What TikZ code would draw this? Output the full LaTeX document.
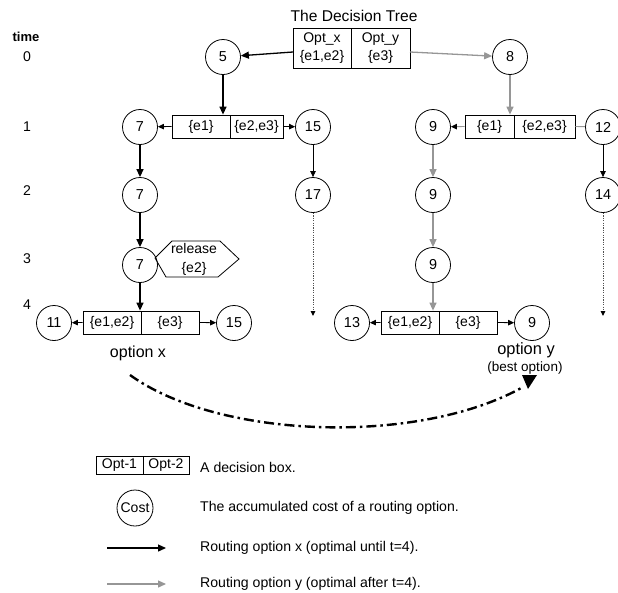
\documentclass[tikz,border=0pt]{standalone}
\usepackage{fontspec}
\setmainfont{Liberation Sans}
\usetikzlibrary{arrows.meta}
\definecolor{lg}{RGB}{150,150,150}
\definecolor{dg}{RGB}{80,80,80}
\begin{document}
\begin{tikzpicture}[x=1pt,y=-1pt,
  txt/.style={font=\fontsize{14.1}{16}\selectfont, inner sep=0pt},
  cost/.style={circle, draw, line width=0.8pt, minimum size=35pt, inner sep=0pt, font=\fontsize{14.4}{16}\selectfont},
  cell/.style={draw, line width=0.8pt, minimum height=23pt, inner sep=0pt, font=\fontsize{14}{16}\selectfont},
  tip/.style={-{Triangle[length=8pt,width=7pt]}},
  blk/.style={line width=1.3pt, tip},
  gry/.style={lg, line width=1.3pt, tip},
  thin/.style={line width=0.8pt, -{Triangle[length=6pt,width=5.5pt]}},
  dots/.style={dg, dash pattern=on 1.2pt off 1.2pt, line width=1pt, -{Triangle[black,length=5pt,width=4.5pt]}},
]
\useasboundingbox (0,0) rectangle (618,592);

% time labels
\node[txt, font=\bfseries\fontsize{13}{15}\selectfont] (tlab) at (26,37) {time};
\node[txt] (t0) at (27,57) {0};
\node[txt] (t1) at (27,127) {1};
\node[txt] (t2) at (27,191) {2};
\node[txt] (t3) at (27,259) {3};
\node[txt] (t4) at (27,305) {4};

% title and top decision box
\node[txt, font=\fontsize{15.6}{17}\selectfont] (title) at (354,16) {The Decision Tree};
\node[cell, minimum width=58pt, minimum height=40pt, align=center, font=\fontsize{14}{18}\selectfont] (topL) at (322,48) {Opt\_x\\\{e1,e2\}};
\node[cell, minimum width=59pt, minimum height=40pt, align=center, font=\fontsize{14}{18}\selectfont] (topR) at (380.5,48) {Opt\_y\\\{e3\}};

% cost nodes
\node[cost] (n5) at (223,57) {5};
\node[cost] (n8) at (510,57) {8};
\node[cost] (n7a) at (140,127) {7};
\node[cost] (n15a) at (313,127) {15};
\node[cost] (n9a) at (433,127) {9};
\node[cost] (n12) at (603,127) {12};
\node[cost] (n7b) at (140,195) {7};
\node[cost] (n17) at (313,195) {17};
\node[cost] (n9b) at (433,195) {9};
\node[cost] (n14) at (603,195) {14};
\node[cost] (n7c) at (140,265) {7};
\node[cost] (n9c) at (433,265) {9};
\node[cost] (n11) at (54,323) {11};
\node[cost] (n15b) at (234,323) {15};
\node[cost] (n13) at (352,323) {13};
\node[cost] (n9d) at (532,323) {9};

% decision boxes
\node[cell, minimum width=58pt] (b1l) at (201,126.5) {\{e1\}};
\node[cell, minimum width=53pt] (b1r) at (256.5,126.5) {\{e2,e3\}};
\node[cell, minimum width=49pt] (c1l) at (489.5,126.5) {\{e1\}};
\node[cell, minimum width=61pt] (c1r) at (544.5,126.5) {\{e2,e3\}};
\node[cell, minimum width=58pt] (d4l) at (112,322.5) {\{e1,e2\}};
\node[cell, minimum width=58pt] (d4r) at (170,322.5) {\{e3\}};
\node[cell, minimum width=58pt] (e4l) at (410,322.5) {\{e1,e2\}};
\node[cell, minimum width=58pt] (e4r) at (468,322.5) {\{e3\}};

% release hexagon
\draw[line width=0.8pt] (155,258) -- (172,241) -- (220,241) -- (239,259) -- (218,277) -- (166,277) -- cycle;
\node[txt, align=center, font=\fontsize{14}{19}\selectfont] (rel) at (194,259) {release\\\{e2\}};

% top connectors
\coordinate (aL) at (293,52);
\coordinate (aR) at (410,52);
\draw[blk] (aL) -- (n5);
\draw[gry] (aR) -- (n8);
\draw[blk] (n5) -- (n5 |- b1l.north);
\draw[gry] (n8) -- (n8 |- c1l.north);

% level 1 connectors
\draw[thin] (b1l.west) -- (n7a);
\draw[thin] (b1r.east) -- (n15a);
\draw[lg, line width=0.9pt, -{Triangle[black,length=6pt,width=5.5pt]}] (c1l.west) -- (n9a);
\draw[lg, line width=0.9pt] (c1r.east) -- (n12);

% vertical connectors
\draw[blk] (n7a) -- (n7b);
\draw[blk] (n7b) -- (n7c);
\draw[blk] (n7c) -- (n7c |- d4l.north);
\draw[thin] (n15a) -- (n17);
\draw[gry] (n9a) -- (n9b);
\draw[gry] (n9b) -- (n9c);
\draw[gry] (n9c) -- (n9c |- e4l.north);
\draw[thin] (n12) -- (n14);

% dotted continuations
\coordinate (d17) at (313,316);
\coordinate (d14) at (603,316);
\draw[dots] (n17) -- (d17);
\draw[dots] (n14) -- (d14);

% level 4 connectors
\draw[thin] (d4l.west) -- (n11);
\draw[thin] (d4r.east) -- (n15b);
\draw[thin] (e4l.west) -- (n13);
\draw[thin] (e4r.east) -- (n9d);

% option labels
\node[txt, font=\fontsize{16}{18}\selectfont] (optx) at (138,353) {option x};
\node[txt, font=\fontsize{16.4}{18}\selectfont] (opty) at (526,350) {option y};
\node[txt, font=\fontsize{13.5}{15}\selectfont] (best) at (525,368) {(best option)};

% dash-dot curve
\coordinate (cs) at (130,375);
\coordinate (ce) at (523,387);
\draw[line width=2.4pt, dash pattern=on 10pt off 4pt on 2.5pt off 4pt] (cs) .. controls (220,440) and (420,445) .. (ce);
\fill (522,375) -- (537,375) -- (528,389) -- cycle;

% legend
\node[cell, minimum width=47pt, minimum height=18pt] (lgl) at (119.5,465) {Opt-1};
\node[cell, minimum width=46pt, minimum height=18pt] (lgr) at (166,465) {Opt-2};
\node[txt, anchor=west] (lt1) at (200,467) {A decision box.};
\node[cost, minimum size=36pt, font=\fontsize{14}{16}\selectfont] (lcost) at (135,508) {Cost};
\node[txt, anchor=west] (lt2) at (200,508) {The accumulated cost of a routing option.};
\coordinate (la1) at (107,548);
\coordinate (la2) at (166,548);
\draw[blk] (la1) -- (la2);
\node[txt, anchor=west] (lt3) at (200,548) {Routing option x (optimal until t=4).};
\coordinate (lb1) at (107,584);
\coordinate (lb2) at (166,584);
\draw[gry] (lb1) -- (lb2);
\node[txt, anchor=west] (lt4) at (200,584) {Routing option y (optimal after t=4).};
\end{tikzpicture}
\end{document}
